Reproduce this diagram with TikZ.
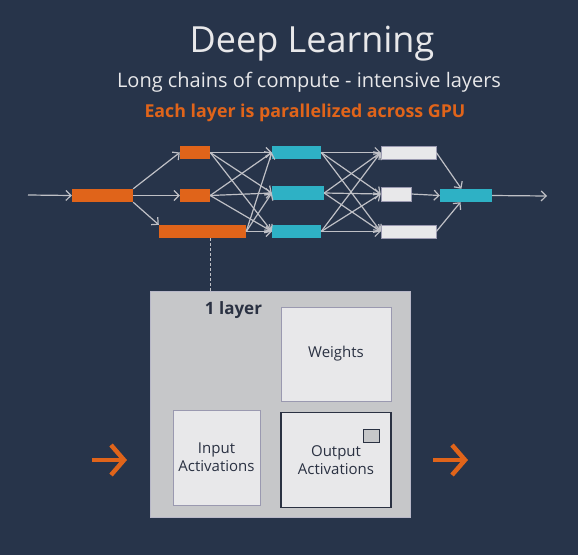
\documentclass[tikz,border=0pt]{standalone}
\usepackage{fontspec}
\setmainfont{Open Sans}
\usetikzlibrary{positioning,arrows.meta,calc}

\definecolor{dlnavy}{HTML}{27344A}
\definecolor{dlorange}{HTML}{E0641A}
\definecolor{dlcyan}{HTML}{2EB1C5}
\definecolor{dlwhite}{HTML}{E8E8EA}
\definecolor{dlline}{HTML}{BFC0C6}
\definecolor{dlpanel}{HTML}{C6C7C9}
\definecolor{dlframe}{HTML}{9A99B0}
\definecolor{dltext}{HTML}{2A3142}

\begin{document}
\begin{tikzpicture}[x=1pt, y=-1pt,
  bar/.style={inner sep=0pt, minimum height=13pt},
  ora/.style={bar, fill=dlorange},
  cya/.style={bar, fill=dlcyan},
  wht/.style={bar, fill=dlwhite, draw=dlframe, line width=0.6pt},
  link/.style={draw=dlline, line width=1.2pt, -{Straight Barb[length=5pt,width=10pt]}},
  part/.style={fill=dlwhite, inner sep=0pt, align=center, text=dltext,
    font=\fontsize{15}{18}\selectfont},
  big/.style={draw=dlorange, line width=4.5pt, -{Straight Barb[length=13pt,width=30pt]}}]
  \fill[dlnavy] (0,0) rectangle (578,555);

  % titles
  \node[anchor=base, text=dlwhite, font=\fontsize{36}{42}\selectfont] (title) at (312,52) {Deep Learning};
  \node[anchor=base, text=dlwhite, font=\fontsize{20}{24}\selectfont] (sub) at (309,87) {Long chains of compute - intensive layers};
  \node[anchor=base, text=dlorange, font=\bfseries\fontsize{17.8}{21}\selectfont] (note) at (305,117) {Each layer is parallelized across GPU};

  % network
  \coordinate (in) at (28,195);
  \node[ora, minimum width=61pt] (o1) at (102.5,195.5) {};
  \node[ora, minimum width=30pt] (o2) at (195,152.5) {};
  \node[ora, minimum width=30pt] (o3) at (195,195.5) {};
  \node[ora, minimum width=87pt] (o4) at (202.5,231.5) {};
  \node[cya, minimum width=49pt] (c1) at (296.5,152.5) {};
  \node[cya, minimum width=52pt, minimum height=14pt] (c2) at (298,193) {};
  \node[cya, minimum width=49pt] (c3) at (296.5,231.5) {};
  \node[wht, minimum width=55pt] (w1) at (408.5,152.5) {};
  \node[wht, minimum width=30pt, minimum height=14pt] (w2) at (396,194) {};
  \node[wht, minimum width=55pt] (w3) at (408.5,231.5) {};
  \node[cya, minimum width=52pt] (f) at (466,195.5) {};
  \coordinate (out) at (547,196);

  \draw[link] (in) -- (o1.west);
  \draw[link] (o1.north east) -- (o2.west);
  \draw[link] (o1.east) -- (o3.west);
  \draw[link] (o1.south east) -- (o4.north west);
  \foreach \a in {o2,o3,o4}
    \foreach \b in {c1,c2,c3}
      \draw[link] (\a.east) -- (\b.west);
  \foreach \a in {c1,c2,c3}
    \foreach \b in {w1,w2,w3}
      \draw[link] (\a.east) -- (\b.west);
  \draw[link] (w1.east) -- (f);
  \draw[link] (w2.east) -- (f.west);
  \draw[link] (w3.east) -- (f);
  \draw[link] (f.east) -- (out);

  % one layer
  \node[fill=dlpanel, draw=dlframe!70, inner sep=0pt, minimum width=260pt, minimum height=226pt] (layer) at (280,404) {};
  \draw[dlline, line width=1pt, densely dashed] ([xshift=8pt]o4.south) -- ([xshift=8pt]o4.south |- layer.north);
  \node[text=dltext, font=\bfseries\fontsize{17}{20}\selectfont] (lbl) at (233.5,310) {1 layer};
  \node[part, draw=dlframe, line width=1pt, minimum width=110pt, minimum height=94pt] (weights) at (336,354) {Weights};
  \node[part, draw=dlframe, line width=1pt, minimum width=87pt, minimum height=95pt] (inact) at (216.5,457.5) {Input\\Activations};
  \node[part, draw=dltext, line width=1.4pt, minimum width=110pt, minimum height=95pt] (outact) at (336,460) {Output\\Activations};
  \node[fill=dlpanel, draw=dltext, line width=0.8pt, inner sep=0pt, minimum width=16pt, minimum height=13pt] (tag) at (371,435.5) {};

  \coordinate (a1) at (92,460);
  \coordinate (a2) at (433,460);
  \draw[big] (a1) -- ++(35,0);
  \draw[big] (a2) -- ++(35,0);
\end{tikzpicture}
\end{document}
